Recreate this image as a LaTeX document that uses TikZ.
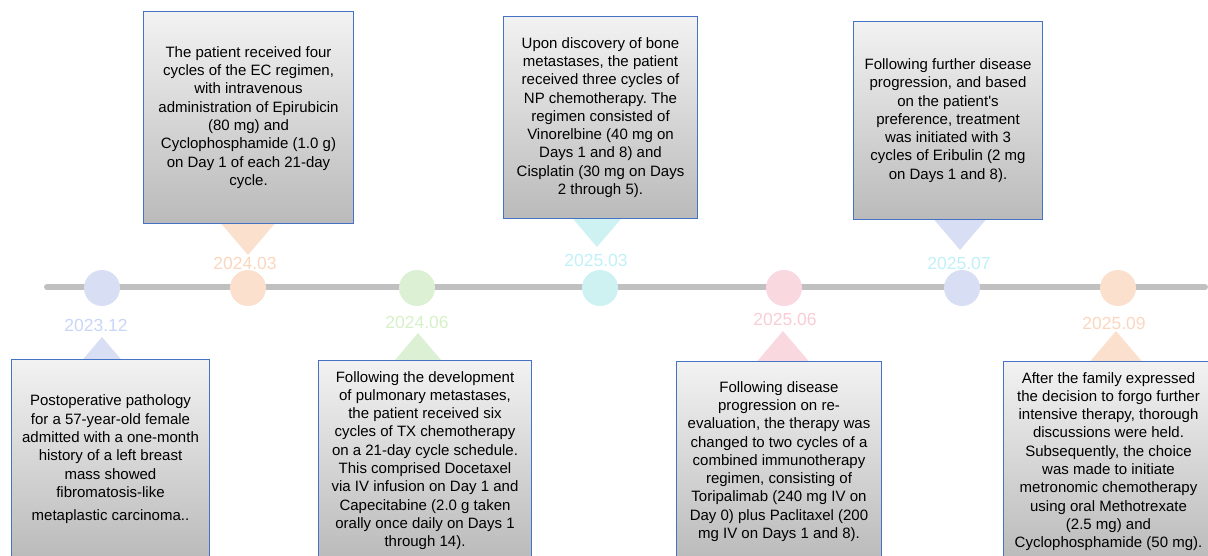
\documentclass[tikz,border=0pt]{standalone}
\usepackage{fontspec}
\setmainfont{Liberation Sans}
\usepackage{tikz}
\frenchspacing

\definecolor{boxblue}{RGB}{68,114,196}
\definecolor{axisgray}{RGB}{192,192,192}
\definecolor{dotBlue}{RGB}{216,223,244}
\definecolor{dotPeach}{RGB}{251,224,206}
\definecolor{dotGreen}{RGB}{220,240,212}
\definecolor{dotCyan}{RGB}{206,242,242}
\definecolor{dotPink}{RGB}{250,216,223}
\definecolor{txtBlue}{RGB}{200,214,248}
\definecolor{txtPeach}{RGB}{251,214,190}
\definecolor{txtGreen}{RGB}{214,240,200}
\definecolor{txtCyan}{RGB}{192,240,248}
\definecolor{txtPink}{RGB}{249,204,214}

\tikzset{
  evbox/.style={draw=boxblue,line width=1pt,top color=black!5,bottom color=black!27,
    align=center,inner sep=0pt,anchor=north west,
    font=\fontsize{15pt}{18.3pt}\selectfont},
  datelab/.style={font=\fontsize{17.5pt}{20pt}\selectfont},
  dot/.style={circle,inner sep=0pt,minimum size=36pt}
}

\begin{document}
\begin{tikzpicture}[x=1pt,y=-1pt]
\clip (0,0) rectangle (1208,555);
% pointers (behind the boxes)
\foreach \px/\ty/\sg/\col in {%
  102/337/1/dotBlue, 248/255/-1/dotPeach, 418/333/1/dotGreen, 597/247/-1/dotCyan,
  783/331/1/dotPink, 960/250/-1/dotBlue, 1116/331/1/dotPeach} {
  \fill[\col] ({\px-29},{\ty+34*\sg}) -- ({\px+29},{\ty+34*\sg}) -- (\px,\ty) -- cycle;
}

% event boxes
\node[evbox,minimum width=198,minimum height=200] (b1) at (11,359) {%
  Postoperative pathology\\for a 57-year-old female\\admitted with a one-month\\
  history of a left breast\\mass showed\\fibromatosis-like\\[5pt]metaplastic carcinoma..};
\node[evbox,minimum width=210,minimum height=212] (b2) at (143,11) {%
  The patient received four\\cycles of the EC regimen,\\with intravenous\\
  administration of Epirubicin\\(80 mg) and\\Cyclophosphamide (1.0 g)\\
  on Day 1 of each 21-day\\cycle.};
\node[evbox,minimum width=213,minimum height=200] (b3) at (318,360) {%
  Following the development\\of pulmonary metastases,\\the patient received six\\
  cycles of TX chemotherapy\\on a 21-day cycle schedule.\\This comprised Docetaxel\\
  via IV infusion on Day 1 and\\Capecitabine (2.0 g taken\\orally once daily on Days 1\\
  through 14).};
\node[evbox,minimum width=194,minimum height=202] (b4) at (503,16) {%
  Upon discovery of bone\\metastases, the patient\\received three cycles of\\
  NP chemotherapy. The\\regimen consisted of\\Vinorelbine (40 mg on\\
  Days 1 and 8) and\\Cisplatin (30 mg on Days\\2 through 5).};
\node[evbox,minimum width=205,minimum height=200] (b5) at (676,361) {%
  Following disease\\progression on re-\\evaluation, the therapy was\\
  changed to two cycles of a\\combined immunotherapy\\regimen, consisting of\\
  Toripalimab (240 mg IV on\\Day 0) plus Paclitaxel (200\\mg IV on Days 1 and 8).};
\node[evbox,minimum width=189,minimum height=198] (b6) at (853,21) {%
  Following further disease\\progression, and based\\on the patient\textquotesingle s\\
  preference, treatment\\was initiated with 3\\cycles of Eribulin (2 mg\\
  on Days 1 and 8).};
\node[evbox,minimum width=210,minimum height=200] (b7) at (1003,361) {%
  After the family expressed\\the decision to forgo further\\intensive therapy, thorough\\
  discussions were held.\\Subsequently, the choice\\was made to initiate\\
  metronomic chemotherapy\\using oral Methotrexate\\(2.5 mg) and\\
  Cyclophosphamide (50 mg).};

% time axis
\coordinate (tstart) at (47,287);
\coordinate (tend) at (1205,287);
\draw[axisgray,line width=6pt,line cap=round] (tstart) -- (tend);

\foreach \px/\col [count=\i] in {102/dotBlue,248/dotPeach,417/dotGreen,600/dotCyan,
  784/dotPink,962/dotBlue,1118/dotPeach} {
  \node[dot,fill=\col] (c\i) at (\px,288) {};
}
\foreach \px/\py/\dt/\col [count=\i] in {%
  96/325/2023.12/txtBlue, 245/263/2024.03/txtPeach, 417/322/2024.06/txtGreen,
  596/260/2025.03/txtCyan, 785/319/2025.06/txtPink, 959/263/2025.07/txtCyan,
  1114/323/2025.09/txtPeach} {
  \node[datelab,text=\col] (d\i) at (\px,\py) {\dt};
}
\end{tikzpicture}
\end{document}
